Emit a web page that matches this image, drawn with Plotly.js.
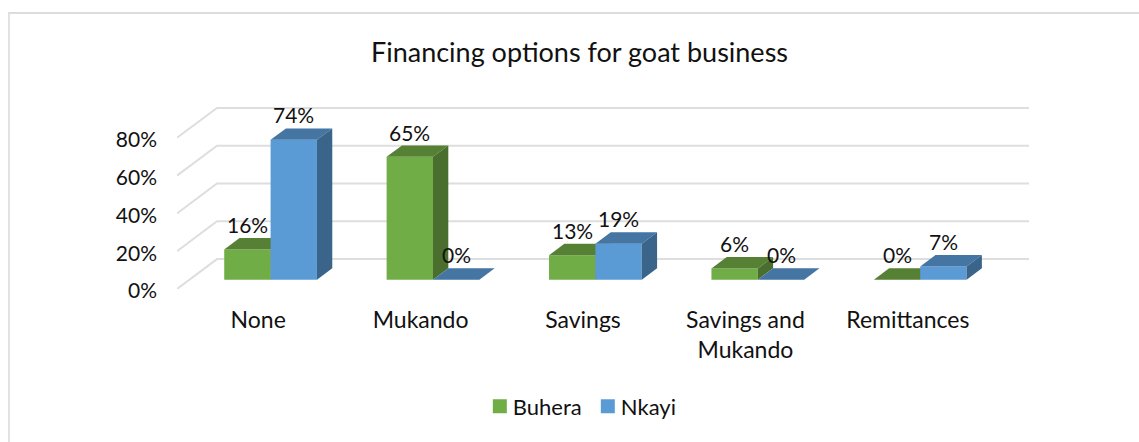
<!DOCTYPE html>
<html>
<head>
<meta charset="utf-8">
<script src="https://cdn.plot.ly/plotly-3.0.1.min.js"></script>
<style>
  html, body { margin: 0; padding: 0; background: #fff; }
  #frame { position: absolute; left: 8px; top: 12px; width: 1131px; height: 430px;
           border-left: 2px solid #e2e2e2; border-top: 2px solid #dcdcdc; box-sizing: border-box; pointer-events: none; z-index: 5; }
  #chart { position: absolute; left: 0; top: 0; width: 1139px; height: 442px; }
</style>
</head>
<body>
<div id="chart"></div>
<div id="frame"></div>
<script>
// Percent of respondents per financing option, by district
const categories = ['None', 'Mukando', 'Savings', 'Savings and<br>Mukando', 'Remittances'];
const buhera = [16, 65, 13, 6, 0];
const nkayi = [74, 0, 19, 0, 7];
const yTicks = [0, 20, 40, 60, 80];

const colors = {
  Buhera: { front: '#70AD47', top: '#568034', side: '#4A6E2D' },
  Nkayi:  { front: '#5B9BD5', top: '#4575A2', side: '#3A6489' }
};
const gridColor = '#DEDEDE';
const textColor = '#111111';
const fontFamily = 'Lato, "Open Sans", sans-serif';

// Oblique projection of the box: floor depth expressed in axis units
const wallDx = 40 / 162.5;   // category units across the whole floor depth
const wallDy = 30 / 1.895;   // percent units across the whole floor depth
const barZ0 = 0.31, barZ1 = 0.693;
const barHalf = 46.4 / 162.5;
const xRange = [-0.5, categories.length - 0.5 + wallDx];
const yRange = [0, 100];

const project = (x, y, z) => [x + z * wallDx, y + z * wallDy];

function polygon(points, color, axes) {
  return {
    type: 'scatter', mode: 'lines', fill: 'toself',
    x: points.map(p => p[0]), y: points.map(p => p[1]),
    fillcolor: color, line: { width: 0, color: color },
    hoverinfo: 'skip', showlegend: false,
    xaxis: axes[0], yaxis: axes[1]
  };
}

// Back-wall gridlines running along the side wall and then across the rear
const gridTraces = yTicks.map(t => {
  const a = project(xRange[0], t, 0), b = project(xRange[0], t, 1), c = [xRange[1], b[1]];
  return {
    type: 'scatter', mode: 'lines',
    x: [a[0], b[0], c[0]], y: [a[1], b[1], c[1]],
    line: { color: gridColor, width: 2 },
    hoverinfo: 'skip', showlegend: false
  };
});

// Front face is a real bar, top and side faces are filled polygons behind it
function seriesTraces(name, values, sign, axes) {
  const palette = colors[name];
  const traces = [];
  const x0s = values.map((_, i) => i + (sign < 0 ? -barHalf : 0));
  const x1s = x0s.map(x => x + barHalf);
  values.forEach((v, i) => {
    const fl = project(x0s[i], v, barZ0), fr = project(x1s[i], v, barZ0);
    const bl = project(x0s[i], v, barZ1), br = project(x1s[i], v, barZ1);
    const gf = project(x1s[i], 0, barZ0), gb = project(x1s[i], 0, barZ1);
    traces.push(polygon([fl, fr, br, bl, fl], palette.top, axes));
    if (v > 0) traces.push(polygon([fr, br, gb, gf, fr], palette.side, axes));
  });
  traces.push({
    type: 'bar', name: name,
    x: x0s.map(x => project(x + barHalf / 2, 0, barZ0)[0]),
    y: values,
    base: values.map(() => barZ0 * wallDy),
    width: barHalf,
    marker: { color: palette.front, line: { width: 0 } },
    hoverinfo: 'skip',
    xaxis: axes[0], yaxis: axes[1]
  });
  return traces;
}

// Layer order: gridlines, then Buhera, then Nkayi, whose faces occlude Buhera's right side
const traces = [
  ...gridTraces,
  ...seriesTraces('Buhera', buhera, -1, ['x2', 'y2']),
  ...seriesTraces('Nkayi', nkayi, 1, ['x3', 'y3'])
];

// Value labels sit just above the rear edge of each bar's top face
const labelFor = (values, sign) => values.map((v, i) => {
  const cx = i + sign * barHalf / 2;
  const p = project(cx, v, barZ1);
  return {
    xref: 'x', yref: 'y',
    x: project(cx, 0, barZ0)[0],
    y: p[1] + 7.1,
    text: v + '%', showarrow: false,
    xanchor: 'center', yanchor: 'middle',
    font: { family: fontFamily, size: 21, color: textColor }
  };
});

const layout = {
  width: 1139, height: 442,
  paper_bgcolor: '#fff', plot_bgcolor: 'rgba(0,0,0,0)',
  margin: { l: 177, r: 109.5, t: 99.8, b: 152.7, pad: 0, autoexpand: false },
  barmode: 'overlay',
  title: {
    text: 'Financing options for goat business',
    xref: 'container', yref: 'container',
    x: 579.5 / 1139, y: 1 - 53 / 442, xanchor: 'center', yanchor: 'middle',
    font: { family: fontFamily, size: 27, color: textColor }
  },
  xaxis: {
    range: xRange, showgrid: false, zeroline: false, showline: false,
    tickmode: 'array', tickvals: categories.map((_, i) => i), ticktext: categories,
    ticks: '', ticklabelstandoff: 15, tickangle: 0,
    tickfont: { family: fontFamily, size: 23, color: textColor }
  },
  yaxis: {
    range: yRange, showgrid: false, zeroline: false, showline: false,
    tickmode: 'array', tickvals: yTicks, ticktext: yTicks.map(t => t + '%'),
    ticks: '', ticklabelstandoff: 19, ticklabelshift: 2,
    tickfont: { family: fontFamily, size: 21, color: textColor }
  },
  xaxis2: { range: xRange, overlaying: 'x', visible: false },
  yaxis2: { range: yRange, overlaying: 'y', visible: false },
  xaxis3: { range: xRange, overlaying: 'x', visible: false },
  yaxis3: { range: yRange, overlaying: 'y', visible: false },
  showlegend: true,
  legend: {
    orientation: 'h', x: (480 - 177) / 852.5, xanchor: 'left',
    y: (289.3 - 386) / 189.5, yanchor: 'top',
    font: { family: fontFamily, size: 22, color: textColor },
    itemwidth: 30, tracegroupgap: 0
  },
  annotations: [...labelFor(buhera, -1), ...labelFor(nkayi, 1)],
  hovermode: false
};

// Tighten the legend: larger square keys, text close to the key
Plotly.newPlot('chart', traces, layout, { displayModeBar: false }).then(gd => {
  gd.querySelectorAll('.legend .traces').forEach((g, i) => {
    const m = /translate\(([^,]+),\s*([^)]+)\)/.exec(g.getAttribute('transform'));
    g.setAttribute('transform', 'translate(' + (i * 108) + ',' + m[2] + ')');
    const text = g.querySelector('.legendtext');
    if (text) text.setAttribute('x', 33);
    const key = g.querySelector('.legendpoints path');
    if (key) key.setAttribute('d', 'M7,7H-7V-7H7Z');
  });
});
</script>
</body>
</html>
